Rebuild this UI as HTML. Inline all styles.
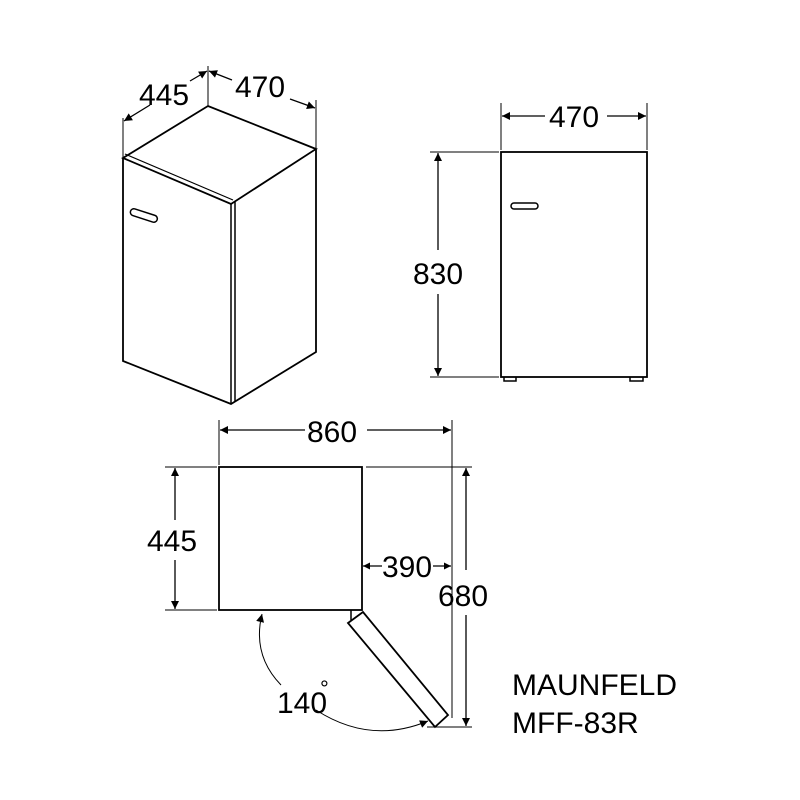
<!DOCTYPE html>
<html><head><meta charset="utf-8"><style>
html,body{margin:0;padding:0;background:#fff;width:800px;height:800px;overflow:hidden}
text{font-family:"Liberation Sans",Arial,sans-serif;fill:#000}
</style></head><body>
<svg width="800" height="800" viewBox="0 0 800 800" xmlns="http://www.w3.org/2000/svg">
<defs>
<marker id="a" viewBox="0 0 10 10" refX="10" refY="5" markerWidth="10" markerHeight="8" orient="auto-start-reverse" markerUnits="userSpaceOnUse"><path d="M0,0 L10,5 L0,10 z" fill="#000"/></marker>
<marker id="s" viewBox="0 0 10 10" refX="10" refY="5" markerWidth="8" markerHeight="7" orient="auto-start-reverse" markerUnits="userSpaceOnUse"><path d="M0,0 L10,5 L0,10 z" fill="#000"/></marker>
</defs>
<g stroke="#000" fill="none" stroke-width="1.3">
<path d="M208,106 L123,158 L231,204 L316,149 Z" stroke-width="1.8"/>
<path d="M125,154 L233,200" stroke-width="1.2"/>
<path d="M123,158 L123,361 L231,404 L316,352 L316,149" stroke-width="1.8"/>
<path d="M231,204 L231,404 M235,202 L235,402" stroke-width="1.5"/>
<rect x="130" y="212" width="28" height="7" rx="3.5" transform="rotate(18 144 215)" stroke-width="1.5"/>
<path d="M123,118 L123,158 M208,66 L208,106 M316,100 L316,149" stroke-width="1"/>
<line x1="124" y1="121" x2="150" y2="105" marker-start="url(#a)"/>
<line x1="190" y1="81" x2="207" y2="71" marker-end="url(#a)"/>
<line x1="209" y1="71" x2="232" y2="80" marker-start="url(#a)"/>
<line x1="290" y1="99" x2="315" y2="108" marker-end="url(#a)"/>
<rect x="501" y="152" width="146" height="225" stroke-width="1.8"/>
<rect x="511" y="203" width="27" height="6" rx="3" stroke-width="1.5"/>
<path d="M504,377 v4 h12 v-4 M630,377 v4 h13 v-4" stroke-width="1.5"/>
<path d="M501,103 V150 M647,103 V150 M430,152 H499 M430,377 H499" stroke-width="1"/>
<line x1="502" y1="116" x2="545" y2="116" marker-start="url(#a)"/>
<line x1="607" y1="116" x2="646" y2="116" marker-end="url(#a)"/>
<line x1="438" y1="153" x2="438" y2="250" marker-start="url(#a)"/>
<line x1="438" y1="294" x2="438" y2="376" marker-end="url(#a)"/>
<rect x="219" y="467" width="143" height="143" stroke-width="1.8"/>
<path d="M351,610 V620" stroke-width="1.5"/>
<path d="M348,623 L363,612 L448,715 L435,727 Z" stroke-width="1.8"/>
<path d="M219,420 V465 M452,420 V718 M366,467 H472 M427,727 H472 M165,467 H217 M165,610 H217" stroke-width="1"/>
<line x1="220" y1="430" x2="305" y2="430" marker-start="url(#a)"/>
<line x1="367" y1="430" x2="451" y2="430" marker-end="url(#a)"/>
<line x1="175" y1="468" x2="175" y2="520" marker-start="url(#a)"/>
<line x1="175" y1="560" x2="175" y2="609" marker-end="url(#a)"/>
<line x1="363" y1="566" x2="382" y2="566" marker-start="url(#s)"/>
<line x1="433" y1="566" x2="451" y2="566" marker-end="url(#s)"/>
<line x1="466" y1="468" x2="466" y2="570" marker-start="url(#a)"/>
<line x1="466" y1="615" x2="466" y2="726" marker-end="url(#a)"/>
<path d="M281,685 Q252,655 262,614" stroke-width="1" marker-end="url(#a)"/>
<path d="M316,710 Q370,745 428,721" stroke-width="1" marker-end="url(#a)"/>
</g>
<g font-size="30">
<text x="139" y="105">445</text>
<text x="235" y="97">470</text>
<text x="549" y="127">470</text>
<text x="413" y="284">830</text>
<text x="307" y="442">860</text>
<text x="147" y="551">445</text>
<text x="382" y="577">390</text>
<text x="438" y="606">680</text>
<text x="277" y="713">140</text>
<text x="320" y="696" font-size="22">°</text>
<text x="512" y="695">MAUNFELD</text>
<text x="512" y="733">MFF-83R</text>
</g>
</svg>
</body></html>
